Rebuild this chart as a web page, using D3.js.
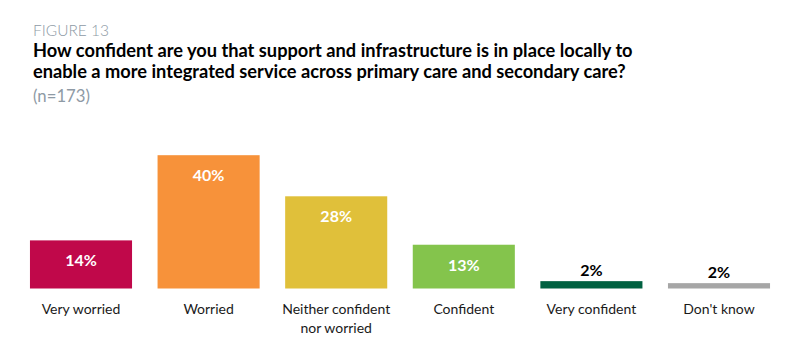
<!DOCTYPE html>
<html><head><meta charset="utf-8">
<script src="https://cdn.jsdelivr.net/npm/d3@7"></script>
<style>
body{margin:0;background:#fff;}
svg{display:block;font-family:"Lato","Open Sans",sans-serif;}
</style></head>
<body>
<svg id="chart" width="800" height="347"></svg>
<script>
const categories = ["Very worried","Worried","Neither confident\nnor worried","Confident","Very confident","Don't know"];
const values = [14.4, 39.9, 27.6, 13.1, 2.2, 1.6];
const valueLabels = ["14%","40%","28%","13%","2%","2%"];
const colors = ["#C0084A","#F7923A","#E0C03A","#84C44C","#006141","#A6A6A6"];
const figureLabel = "FIGURE 13";
const titleLines = ["How confident are you that support and infrastructure is in place locally to",
                    "enable a more integrated service across primary care and secondary care?"];
const subtitle = "(n=173)";

const svg = d3.select("#chart");
const baseY = 288.5;

function fit(sel, target){
  const w = sel.node().getComputedTextLength();
  const f = parseFloat(sel.style("font-size"));
  sel.style("font-size",(f*target/w)+"px");
  return f*target/w;
}

svg.append("text").attr("x",33).attr("y",36).attr("fill","#8E9AA5")
  .style("font-size","15.5px").style("font-weight","300").text(figureLabel);

const t = svg.append("g");
titleLines.forEach((l,i)=>{
  t.append("text").attr("x",33).attr("y",57+i*21).attr("fill","#000")
    .style("font-size","17px").style("font-weight","bold").text(l);
});
const fs = fit(t.select("text"),600);
t.selectAll("text").style("font-size",fs+"px");

const sub = svg.append("text").attr("x",33).attr("y",102).attr("fill","#8E9AA5")
  .style("font-size","16px").text(subtitle);
fit(sub,57);

const x = d3.scaleBand().domain(d3.range(categories.length)).range([17.2,782.8])
  .paddingInner(0.2).paddingOuter(0.1);
const y = d3.scaleLinear().domain([0,39.9]).range([baseY,155.2]);

svg.selectAll("rect.bar").data(values).join("rect").attr("class","bar")
  .attr("x",(d,i)=>x(i)).attr("width",x.bandwidth())
  .attr("y",d=>y(d)).attr("height",d=>baseY-y(d))
  .attr("fill",(d,i)=>colors[i]);

svg.selectAll("text.val").data(values).join("text").attr("class","val")
  .attr("x",(d,i)=>x(i)+x.bandwidth()/2)
  .attr("y",d=> (baseY-y(d))>20 ? y(d)+26 : y(d)-5)
  .attr("text-anchor","middle")
  .attr("fill",d=> (baseY-y(d))>20 ? "#fff" : "#000")
  .style("font-size","16px").style("font-weight","bold")
  .text((d,i)=>valueLabels[i]);

const cat = svg.selectAll("text.cat").data(categories).join("text").attr("class","cat")
  .attr("text-anchor","middle").attr("fill","#1a1a1a").style("font-size","14px");
cat.each(function(d,i){
  const lines = d.split("\n");
  d3.select(this).selectAll("tspan").data(lines).join("tspan")
    .attr("x",x(i)+x.bandwidth()/2).attr("y",(l,j)=>314.3+j*18.4).text(l=>l);
});
</script>
</body></html>
